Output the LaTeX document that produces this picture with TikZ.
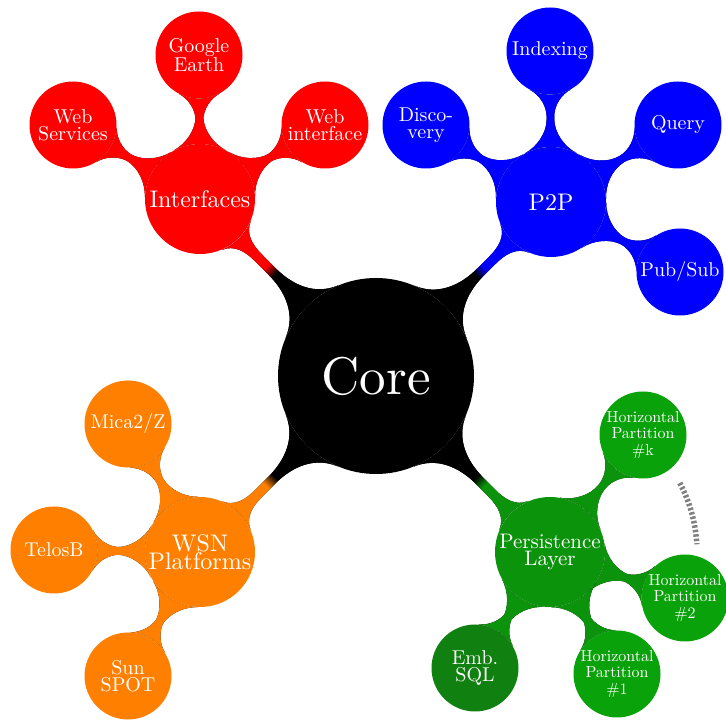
\documentclass[tikz,border=0pt]{standalone}
\usepackage{fontspec}
\setmainfont{lmroman10-regular}[Extension=.otf]
\usetikzlibrary{mindmap,backgrounds}
\definecolor{ifcred}{HTML}{FF0000}
\definecolor{ptpblue}{HTML}{0000FF}
\definecolor{wsnorange}{HTML}{FF8000}
\definecolor{persgreen}{HTML}{0C930C}
\definecolor{partgreen}{HTML}{0AA20A}
\definecolor{sqlgreen}{HTML}{108010}
\colorlet{barfrom}{black}
\colorlet{barto}{black}
% colour switch along a connection bar: parent colour for most of its length
\pgfdeclarehorizontalshading[barfrom,barto]{barswitch}{100bp}{%
  color(0bp)=(barfrom); color(61bp)=(barfrom);
  color(65bp)=(barto); color(100bp)=(barto)}
\begin{document}
\begin{tikzpicture}[x=1pt,y=1pt,
  bubble/.style={circle, fill=#1, text=white, inner sep=0pt, align=center},
  hub/.style={bubble=#1, minimum size=110pt, font=\fontsize{24}{18.5}\selectfont},
  leaf/.style={bubble=#1, minimum size=87pt, font=\fontsize{20}{17}\selectfont},
  smallleaf/.style={bubble=#1, minimum size=87pt, font=\fontsize{16}{16.5}\selectfont},
  mainbar/.style={decoration={angle=22, amplitude=3.8pt}},
  subbar/.style={decoration={angle=28, amplitude=5pt}},
  barcolors/.code 2 args={\colorlet{barfrom}{#1}\colorlet{barto}{#2}},
  switchbar/.style n args={3}{barcolors={#1}{#2}, shade, shading=barswitch, shading angle=#3},
  dotarc/.style={draw=gray, line width=5.5pt, dash pattern=on 2.5pt off 2pt}
]
\useasboundingbox (0,0) rectangle (726,720);

% central concept
\node[bubble=black, minimum size=196pt, font=\fontsize{53}{53}\selectfont] (core) at (376,344) {Core};

% Interfaces branch
\node[hub=ifcred] (ifc) at (200,521) {Interfaces};
\node[leaf=ifcred] (gearth) at (199,665) {Google\\Earth};
\node[leaf=ifcred] (websrv) at (73,595) {Web\\Services};
\node[leaf=ifcred] (webifc) at (325,595) {Web\\interface};

% P2P branch
\node[hub=ptpblue] (ptp) at (551,518) {P2P};
\node[leaf=ptpblue] (index) at (550,669) {Indexing};
\node[leaf=ptpblue] (disco) at (426,595) {Disco-\\very};
\node[leaf=ptpblue] (query) at (678,595) {Query};
\node[leaf=ptpblue] (pubsub) at (680,448) {Pub/Sub};

% WSN branch
\node[hub=wsnorange] (wsn) at (200,168) {WSN\\Platforms};
\node[leaf=wsnorange] (mica) at (128,296) {Mica2/Z};
\node[leaf=wsnorange] (telos) at (54,170) {TelosB};
\node[leaf=wsnorange] (sunspot) at (128,44) {Sun\\SPOT};

% Persistence branch
\node[hub=persgreen, font=\fontsize{21}{17.5}\selectfont] (pers) at (550,168) {Persistence\\Layer};
\node[smallleaf=partgreen] (hpk) at (643,285) {Horizontal\\Partition\\\#k};
\node[smallleaf=partgreen] (hp2) at (685,122) {Horizontal\\Partition\\\#2};
\node[smallleaf=partgreen] (hp1) at (617,46) {Horizontal\\Partition\\\#1};
\node[leaf=sqlgreen] (embsql) at (475,52) {Emb.\\SQL};

% dotted arc standing for the partitions in between
\draw[dotarc] ([shift={(28:147)}]pers.center) arc[start angle=28, end angle=3, radius=147];

\begin{pgfonlayer}{background}
  \path[mainbar, switchbar={black}{ifcred}{135}] (core) to[circle connection bar] (ifc);
  \path[mainbar, switchbar={black}{ptpblue}{45}] (core) to[circle connection bar] (ptp);
  \path[mainbar, switchbar={black}{wsnorange}{225}] (core) to[circle connection bar] (wsn);
  \path[mainbar, switchbar={black}{persgreen}{-45}] (core) to[circle connection bar] (pers);

  \foreach \c in {gearth,websrv,webifc}
    \path[subbar, switchbar={ifcred}{ifcred}{0}] (ifc) to[circle connection bar] (\c);
  \foreach \c in {index,disco,query,pubsub}
    \path[subbar, switchbar={ptpblue}{ptpblue}{0}] (ptp) to[circle connection bar] (\c);
  \foreach \c in {mica,telos,sunspot}
    \path[subbar, switchbar={wsnorange}{wsnorange}{0}] (wsn) to[circle connection bar] (\c);
  \foreach \c in {hpk,hp2,hp1}
    \path[subbar, switchbar={persgreen}{persgreen}{0}] (pers) to[circle connection bar] (\c);
  \path[subbar, switchbar={persgreen}{persgreen}{0}] (pers) to[circle connection bar] (embsql);
\end{pgfonlayer}
\end{tikzpicture}
\end{document}
